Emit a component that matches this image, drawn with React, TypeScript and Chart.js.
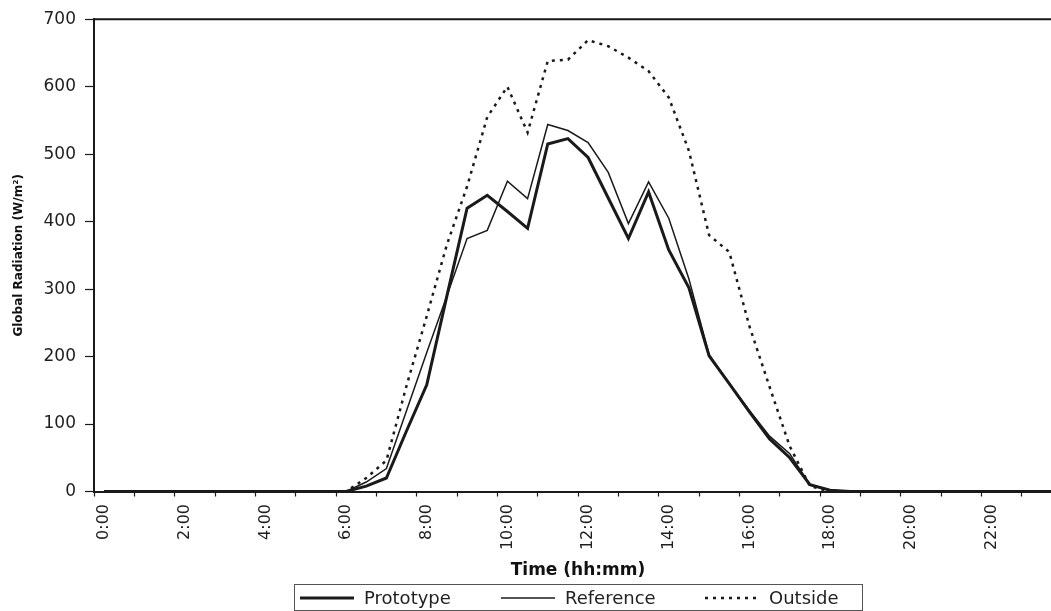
import React, { useEffect, useRef } from 'react';
import { Chart, registerables } from 'chart.js';

Chart.register(...registerables);

const categories = [
  '0:00', '0:30', '1:00', '1:30', '2:00', '2:30', '3:00', '3:30',
  '4:00', '4:30', '5:00', '5:30', '6:00', '6:30', '7:00', '7:30',
  '8:00', '8:30', '9:00', '9:30', '10:00', '10:30', '11:00', '11:30',
  '12:00', '12:30', '13:00', '13:30', '14:00', '14:30', '15:00', '15:30',
  '16:00', '16:30', '17:00', '17:30', '18:00', '18:30', '19:00', '19:30',
  '20:00', '20:30', '21:00', '21:30', '22:00', '22:30', '23:00', '23:30',
];

const tickLabels = ['0:00', '2:00', '4:00', '6:00', '8:00', '10:00', '12:00', '14:00', '16:00', '18:00', '20:00', '22:00'];

const prototype = [
  0, 0, 0, 0, 0, 0, 0, 0, 0, 0, 0, 0,
  0, 8, 20, 90, 158, 290, 420, 439, 415, 390, 515, 523,
  495, 435, 375, 444, 358, 302, 201, 160, 118, 78, 50, 10,
  2, 0, 0, 0, 0, 0, 0, 0, 0, 0, 0, 0,
];

const reference = [
  0, 0, 0, 0, 0, 0, 0, 0, 0, 0, 0, 0,
  0, 14, 34, 120, 206, 290, 375, 387, 460, 434, 544, 535,
  517, 473, 397, 459, 405, 315, 203, 160, 120, 82, 56, 10,
  2, 0, 0, 0, 0, 0, 0, 0, 0, 0, 0, 0,
];

const outside = [
  0, 0, 0, 0, 0, 0, 0, 0, 0, 0, 0, 0,
  0, 20, 46, 157, 260, 366, 452, 555, 600, 532, 638, 640,
  669, 660, 643, 623, 584, 505, 380, 355, 245, 155, 67, 8,
  0, 0, 0, 0, 0, 0, 0, 0, 0, 0, 0, 0,
];

const yTicks = [0, 100, 200, 300, 400, 500, 600, 700];

const INK = '#1a1a1a';
const FONT = '"DejaVu Sans", "Liberation Sans", Arial, sans-serif';

const plotBorder = {
  id: 'plotBorder',
  afterDraw(chart: any) {
    const { ctx, chartArea } = chart;
    ctx.save();
    ctx.strokeStyle = INK;
    ctx.lineWidth = 2;
    ctx.beginPath();
    ctx.moveTo(chartArea.left, chartArea.top);
    ctx.lineTo(chartArea.right, chartArea.top);
    ctx.lineTo(chartArea.right, chartArea.bottom);
    ctx.stroke();
    ctx.restore();
  },
};

const boxedLegend = {
  id: 'boxedLegend',
  afterDraw(chart: any) {
    const { ctx, chartArea } = chart;
    const cx = (chartArea.left + chartArea.right) / 2;
    const boxW = 568;
    const top = 584;
    const bottom = 610;
    const left = Math.round(cx - boxW / 2);
    const y = 598;
    const starts = [6, 207, 411];
    ctx.save();
    ctx.strokeStyle = '#555';
    ctx.lineWidth = 1;
    ctx.strokeRect(left + 0.5, top + 0.5, boxW, bottom - top);
    chart.data.datasets.forEach((ds: any, i: number) => {
      const x0 = left + starts[i];
      ctx.beginPath();
      ctx.setLineDash(ds.borderDash || []);
      ctx.lineWidth = ds.borderWidth;
      ctx.strokeStyle = ds.borderColor;
      ctx.moveTo(x0, y);
      ctx.lineTo(x0 + 54, y);
      ctx.stroke();
      ctx.setLineDash([]);
      ctx.fillStyle = '#222';
      ctx.font = `18px ${FONT}`;
      ctx.textBaseline = 'middle';
      ctx.textAlign = 'left';
      ctx.fillText(ds.label, x0 + 64, y + 1);
    });
    ctx.restore();
  },
};

export default function App() {
  const ref = useRef<HTMLCanvasElement | null>(null);

  useEffect(() => {
    if (!ref.current) return;
    const chart = new Chart(ref.current, {
      type: 'line',
      data: {
        labels: categories,
        datasets: [
          {
            label: 'Prototype',
            data: prototype,
            borderColor: INK,
            borderWidth: 3,
            pointRadius: 0,
            tension: 0,
          },
          {
            label: 'Reference',
            data: reference,
            borderColor: INK,
            borderWidth: 1.5,
            pointRadius: 0,
            tension: 0,
          },
          {
            label: 'Outside',
            data: outside,
            borderColor: INK,
            borderWidth: 2.5,
            borderDash: [3, 5],
            pointRadius: 0,
            tension: 0,
          },
        ],
      },
      options: {
        animation: false,
        responsive: true,
        maintainAspectRatio: false,
        layout: { padding: { left: 0, right: 18, top: 16, bottom: 0 } },
        plugins: {
          legend: { display: false },
          tooltip: { enabled: false },
        },
        scales: {
          x: {
            type: 'category',
            offset: true,
            grid: {
              offset: true,
              drawOnChartArea: false,
              drawTicks: true,
              tickLength: 5,
              tickColor: (c: any) => (c.index % 2 === 0 ? INK : 'rgba(0,0,0,0)'),
              tickWidth: 1.2,
            },
            border: { display: true, color: INK, width: 2 },
            ticks: {
              autoSkip: false,
              minRotation: 90,
              maxRotation: 90,
              padding: 7.5,
              color: '#1e1e1e',
              font: { family: FONT, size: 16 },
              callback: (_v: any, i: number) => (tickLabels.includes(categories[i]) ? categories[i] : ''),
            },
            title: {
              display: true,
              text: 'Time (hh:mm)',
              color: '#111',
              font: { family: FONT, size: 17, weight: 'bold' },
              padding: { top: 0, bottom: 30 },
            },
            afterFit: (scale: any) => {
              scale.height = 119.5;
            },
          },
          y: {
            min: 0,
            max: 700,
            afterBuildTicks: (scale: any) => {
              scale.ticks = yTicks.map((v) => ({ value: v }));
            },
            grid: {
              drawOnChartArea: false,
              drawTicks: true,
              tickLength: 9,
              tickColor: INK,
              tickWidth: 1.2,
            },
            border: { display: true, color: INK, width: 2 },
            ticks: {
              padding: 9,
              color: '#1e1e1e',
              font: { family: FONT, size: 17 },
            },
            title: {
              display: true,
              text: 'Global Radiation (W/m²)',
              color: '#111',
              font: { family: FONT, size: 12, weight: 'bold' },
              padding: { top: 11.5, bottom: 0 },
            },
            afterFit: (scale: any) => {
              scale.width = 94;
            },
          },
        },
      },
      plugins: [plotBorder, boxedLegend],
    });
    return () => chart.destroy();
  }, []);

  return (
    <div
      style={{
        position: 'fixed',
        left: 0,
        top: 0,
        width: 1051,
        height: 611,
        overflow: 'hidden',
        background: '#fff',
      }}
    >
      <div style={{ position: 'relative', width: 1080, height: 611 }}>
        <canvas ref={ref} />
      </div>
    </div>
  );
}
